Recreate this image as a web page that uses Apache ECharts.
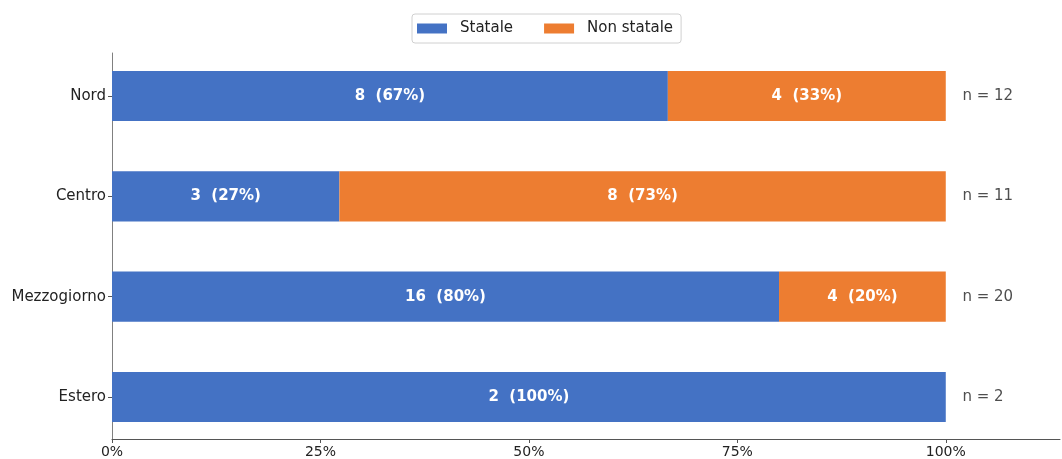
<!DOCTYPE html>
<html>
<head>
<meta charset="utf-8">
<script src="https://cdn.jsdelivr.net/npm/echarts@6/dist/echarts.min.js"></script>
<style>html,body{margin:0;padding:0;background:#fff}#c{width:1062px;height:459px}</style>
</head>
<body>
<div id="c"></div>
<script>
const categories = ['Nord', 'Centro', 'Mezzogiorno', 'Estero'];
const statale = [8, 3, 16, 2];
const nonStatale = [4, 8, 4, 0];
const xTicks = [0, 0.25, 0.5, 0.75, 1.0];
const xTickLabels = ['0%', '25%', '50%', '75%', '100%'];

const totals = categories.map((_, i) => statale[i] + nonStatale[i]);
function mk(arr) {
  return arr.map((v, i) => ({ value: v / totals[i], n: v, p: Math.round(100 * v / totals[i]) }));
}
const font = 'DejaVu Sans';
const XMAX = 1.137;
const chart = echarts.init(document.getElementById('c'), null, { renderer: 'canvas' });
const barLabel = {
  show: true, position: 'inside', color: '#fff', fontWeight: 'bold', fontSize: 15, fontFamily: font,
  formatter: p => p.data.n > 0 ? p.data.n + '\u00a0\u00a0(' + p.data.p + '%)' : ''
};
chart.setOption({
  animation: false,
  textStyle: { fontFamily: font },
  legend: {
    top: 14, left: 412,
    data: ['Statale', 'Non statale'],
    icon: 'rect',
    itemWidth: 30, itemHeight: 10, itemGap: 31,
    borderColor: '#d0d0d0', borderWidth: 1, borderRadius: 3,
    padding: [7, 8, 7, 5],
    textStyle: { fontSize: 15, color: '#222', fontFamily: font, padding: [0, 0, 0, 8] }
  },
  grid: [
    { left: 112, right: 2, top: 45.8, bottom: 11.8, containLabel: false },
    { left: 112, right: 2, top: 53, bottom: 20, containLabel: false }
  ],
  xAxis: [
    { gridIndex: 0, type: 'value', min: 0, max: XMAX, show: false, splitLine: { show: false } },
    {
      gridIndex: 1, type: 'value', min: 0, max: XMAX,
      splitLine: { show: false },
      axisLine: { show: true, onZero: false, lineStyle: { color: '#555', width: 1 } },
      axisTick: { show: true, customValues: xTicks, length: 4, lineStyle: { color: '#555' } },
      axisLabel: {
        customValues: xTicks, fontSize: 14, color: '#222', margin: 6, fontFamily: font,
        formatter: v => xTickLabels[xTicks.findIndex(t => Math.abs(t - v) < 1e-9)] || ''
      }
    }
  ],
  yAxis: [
    {
      gridIndex: 0, type: 'category', inverse: true, data: categories,
      axisLine: { show: false },
      axisTick: { show: true, alignWithLabel: true, length: 4, lineStyle: { color: '#555' } },
      axisLabel: { fontSize: 15, color: '#222', margin: 6, fontFamily: font }
    },
    {
      gridIndex: 1, type: 'value', min: 0, max: 1,
      splitLine: { show: false },
      axisLine: { show: true, onZero: false, lineStyle: { color: '#808080', width: 1 } },
      axisTick: { show: false }, axisLabel: { show: false }
    }
  ],
  series: [
    { name: 'Statale', type: 'bar', stack: 'a', barWidth: '50%', data: mk(statale),
      xAxisIndex: 0, yAxisIndex: 0,
      itemStyle: { color: '#4472C4' }, label: barLabel },
    { name: 'Non statale', type: 'bar', stack: 'a', barWidth: '50%', data: mk(nonStatale),
      xAxisIndex: 0, yAxisIndex: 0,
      itemStyle: { color: '#ED7D31' }, label: barLabel },
    { name: 'n', type: 'scatter', symbolSize: 0, silent: true,
      xAxisIndex: 0, yAxisIndex: 0,
      data: totals.map((t, i) => ({ value: [1.02, categories[i]], t: t })),
      label: { show: true, position: 'right', distance: 0, fontSize: 15, color: '#222', fontFamily: font,
        formatter: p => 'n = ' + p.data.t } }
  ]
});
</script>
</body>
</html>
